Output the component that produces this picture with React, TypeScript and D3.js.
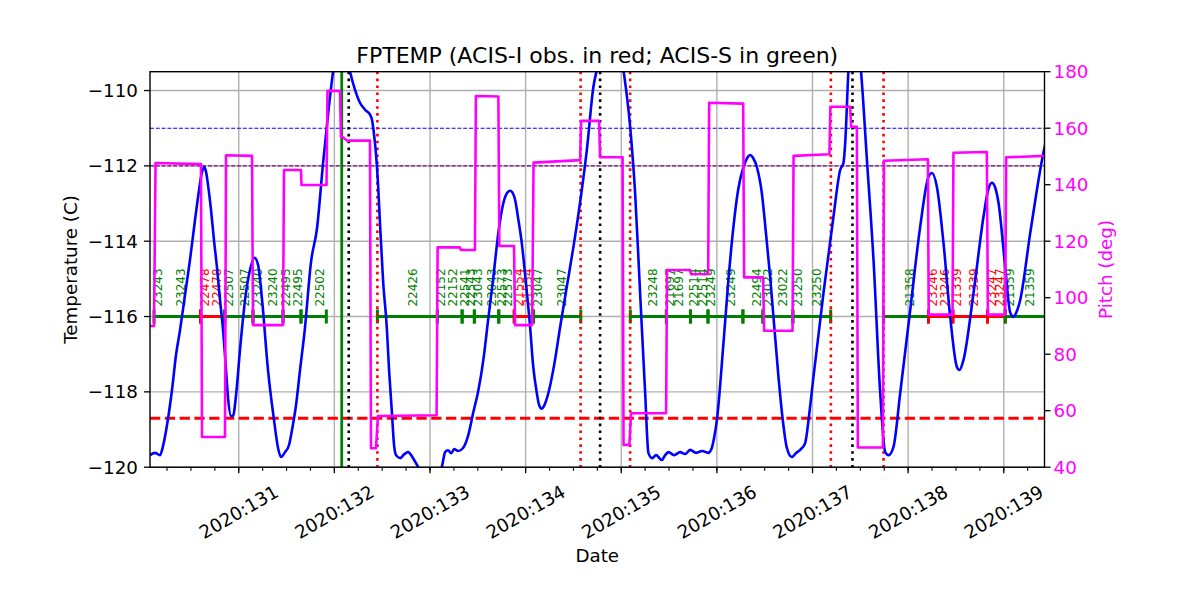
import React from "react";
import * as d3 from "d3";

// --- Layout ---
const WIDTH = 1200;
const HEIGHT = 600;
const LEFT = 150;
const RIGHT = 1044.5;
const TOP = 71.7;
const BOTTOM = 467.2;
const FONT = "DejaVu Sans, sans-serif";

// --- Axes ---
const DAY_DOMAIN = [130.072, 139.426];
const TEMP_DOMAIN = [-120, -109.5];
const PITCH_DOMAIN = [40, 180];
const DATE_TICKS = [131, 132, 133, 134, 135, 136, 137, 138, 139];
const TEMP_TICKS = [-120, -118, -116, -114, -112, -110];
const PITCH_TICKS = [40, 60, 80, 100, 120, 140, 160, 180];

// --- FPTEMP model (day of 2020, deg C) ---
const TEMP_DAYS = [
  130.072, 130.124, 130.177, 130.208, 130.25, 130.302, 130.344, 130.386, 130.438, 130.49,
  130.543, 130.585, 130.616, 130.642, 130.658, 130.679, 130.71, 130.741, 130.773, 130.804,
  130.836, 130.867, 130.888, 130.919, 130.94, 130.972, 131.013, 131.066, 131.118, 131.165,
  131.202, 131.244, 131.306, 131.369, 131.411, 131.442, 131.484, 131.526, 131.557, 131.599,
  131.641, 131.69, 131.756, 131.819, 131.882, 131.934, 131.986, 132.07, 132.164, 132.216,
  132.269, 132.321, 132.373, 132.394, 132.415, 132.436, 132.457, 132.478, 132.509, 132.548,
  132.572, 132.6, 132.624, 132.645, 132.687, 132.729, 132.771, 132.823, 132.875, 132.948,
  133.022, 133.085, 133.126, 133.158, 133.189, 133.221, 133.252, 133.294, 133.346, 133.398,
  133.451, 133.503, 133.558, 133.608, 133.663, 133.712, 133.768, 133.806, 133.838, 133.869,
  133.89, 133.921, 133.96, 134.005, 134.047, 134.078, 134.117, 134.141, 134.169, 134.193,
  134.238, 134.298, 134.361, 134.434, 134.5, 134.563, 134.64, 134.709, 134.744, 134.884,
  135.023, 135.093, 135.145, 135.197, 135.25, 135.284, 135.323, 135.365, 135.424, 135.459,
  135.493, 135.553, 135.616, 135.668, 135.72, 135.783, 135.846, 135.909, 135.947, 135.971,
  136.0, 136.069, 136.118, 136.173, 136.222, 136.278, 136.317, 136.348, 136.379, 136.418,
  136.47, 136.515, 136.557, 136.644, 136.683, 136.732, 136.784, 136.829, 136.871, 136.923,
  136.965, 137.01, 137.115, 137.219, 137.289, 137.324, 137.342, 137.376, 137.436, 137.506,
  137.569, 137.638, 137.708, 137.76, 137.795, 137.847, 137.917, 138.022, 138.126, 138.213,
  138.249, 138.301, 138.37, 138.44, 138.51, 138.537, 138.579, 138.684, 138.788, 138.837,
  138.876, 138.911, 138.945, 139.015, 139.068, 139.102, 139.13, 139.172, 139.277, 139.41,
  139.444,
];
const TEMP_C = [
  -119.68, -119.62, -119.68, -119.44, -118.88, -117.95, -117.02, -116.36, -115.43, -114.5,
  -113.43, -112.64, -112.16, -112.04, -112.16, -112.51, -113.17, -113.97, -114.71, -115.56,
  -116.36, -117.42, -118.16, -118.64, -118.64, -118.08, -116.89, -115.56, -114.76, -114.44,
  -114.63, -115.56, -117.42, -118.75, -119.49, -119.73, -119.6, -119.41, -119.01, -118.35,
  -117.42, -116.36, -114.55, -113.65, -111.92, -110.64, -109.5, -108.12, -109.5, -109.98,
  -110.33, -110.51, -110.64, -110.78, -111.17, -111.71, -112.5, -113.57, -115.03, -116.28,
  -117.42, -118.48, -119.41, -119.68, -119.76, -119.66, -119.6, -119.76, -119.99, -120.23,
  -120.34, -120.21, -119.97, -119.6, -119.55, -119.63, -119.52, -119.57, -119.49, -119.17,
  -118.56, -118.0, -117.15, -116.09, -114.95, -113.83, -112.98, -112.72, -112.66, -112.74,
  -112.9, -113.38, -114.05, -115.16, -116.28, -117.29, -118.03, -118.35, -118.45, -118.37,
  -118.03, -117.29, -116.28, -115.16, -114.15, -113.09, -111.58, -109.9, -109.45, -107.86,
  -109.45, -110.96, -112.72, -115.37, -118.03, -119.62, -119.76, -119.68, -119.81, -119.68,
  -119.6, -119.68, -119.6, -119.65, -119.54, -119.62, -119.57, -119.62, -119.49, -119.22,
  -118.75, -116.7, -115.11, -113.62, -112.64, -112.03, -111.79, -111.71, -111.79, -112.03,
  -112.72, -113.83, -114.95, -117.6, -118.61, -119.49, -119.73, -119.62, -119.54, -119.36,
  -118.61, -117.6, -115.37, -113.35, -112.11, -111.92, -111.39, -109.45, -108.12, -109.45,
  -111.84, -114.5, -118.03, -119.6, -119.68, -119.46, -118.03, -115.82, -113.62, -112.29,
  -112.19, -112.56, -114.05, -116.01, -117.34, -117.42, -117.15, -115.37, -113.35, -112.64,
  -112.45, -112.58, -112.98, -114.68, -115.9, -116.01, -115.9, -115.56, -113.78, -111.71,
  -111.31,
];

// --- Pitch (deg) ---
const PITCH_DAYS = [
  130.072, 130.114, 130.13, 130.605, 130.616, 130.856, 130.867, 131.139, 131.149, 131.463,
  131.473, 131.651, 131.656, 131.918, 131.928, 132.059, 132.069, 132.09, 132.132, 132.372,
  132.383, 132.435, 132.456, 133.069, 133.08, 133.313, 133.324, 133.47, 133.48, 133.715,
  133.725, 133.879, 133.889, 134.068, 134.083, 134.57, 134.58, 134.768, 134.779, 135.014,
  135.024, 135.085, 135.103, 135.469, 135.479, 135.72, 135.73, 135.909, 135.919, 136.275,
  136.285, 136.483, 136.494, 136.791, 136.802, 137.177, 137.187, 137.393, 137.404, 137.464,
  137.474, 137.736, 137.747, 138.207, 138.215, 138.464, 138.474, 138.823, 138.834, 139.015,
  139.025, 139.433,
];
const PITCH_DEG = [
  90.0, 90.0, 147.7, 147.3, 50.7, 50.7, 150.4, 150.2, 90.3, 90.3,
  145.2, 145.2, 139.9, 139.9, 173.2, 173.2, 156.8, 156.8, 155.6, 155.6,
  46.7, 46.7, 58.1, 58.4, 117.8, 117.8, 116.9, 116.9, 171.4, 171.2,
  118.3, 118.3, 90.3, 90.3, 147.8, 148.7, 162.6, 162.6, 149.7, 149.7,
  47.9, 47.9, 59.1, 59.1, 109.8, 109.8, 108.3, 108.4, 169.0, 168.7,
  107.2, 107.2, 88.3, 88.3, 150.2, 150.8, 167.6, 167.6, 160.5, 160.5,
  47.0, 47.0, 148.5, 149.0, 94.0, 94.0, 151.3, 151.6, 94.0, 94.0,
  149.7, 150.2,
];

// --- Observations (drawn at -116 C) ---
const OBS_LEVEL = -116;
const OBS_START = [
  130.114, 130.6, 130.853, 131.149, 131.463, 131.651, 132.45, 133.077, 133.336, 133.464,
  133.719, 133.881, 134.083, 135.095, 135.472, 135.724, 135.907, 136.272, 136.481, 136.795,
  137.743, 138.213, 138.468, 138.83, 139.016,
];
const OBS_STOP = [
  130.6, 130.853, 131.149, 131.463, 131.651, 131.916, 133.077, 133.336, 133.464, 133.719,
  133.881, 134.083, 134.577, 135.472, 135.724, 135.907, 136.272, 136.481, 136.795, 137.19,
  138.213, 138.468, 138.83, 139.016, 139.6,
];
const OBS_INSTR = [
  "S", "I", "S", "S", "S", "S", "S", "S", "S", "S",
  "S", "I", "S", "S", "S", "S", "S", "S", "S", "S",
  "S", "I", "I", "I", "S",
];

const LABEL_DAYS = [
  130.156, 130.396, 130.647, 130.773, 130.898, 131.065, 131.202, 131.359, 131.495, 131.62,
  131.85, 132.818, 133.112, 133.239, 133.367, 133.425, 133.503, 133.644, 133.754, 133.817,
  133.932, 134.026, 134.131, 134.382, 135.337, 135.512, 135.606, 135.763, 135.857, 135.94,
  136.149, 136.424, 136.536, 136.696, 136.853, 137.049, 138.022, 138.265, 138.388, 138.51,
  138.684, 138.876, 138.963, 139.068, 139.277,
];
const LABEL_OBSIDS = [
  "23243", "23243", "22478", "22478", "22507", "22507", "23240", "23240", "22495", "22495",
  "22502", "22426", "22152", "22152", "22541", "22543", "23043", "23043", "22573", "22573",
  "21554", "21554", "23047", "23047", "23248", "21697", "21697", "22514", "22514", "23249",
  "23249", "22494", "23022", "23022", "23250", "23250", "21358", "23246", "23246", "21339",
  "21339", "23247", "23247", "21359", "21359",
];
const LABEL_INSTR = [
  "S", "S", "I", "I", "S", "S", "S", "S", "S", "S",
  "S", "S", "S", "S", "S", "S", "S", "S", "S", "S",
  "I", "I", "S", "S", "S", "S", "S", "S", "S", "S",
  "S", "S", "S", "S", "S", "S", "S", "I", "I", "I",
  "I", "I", "I", "S", "S",
];

// --- Reference lines ---
const RADZONE_DAYS = [132.45, 134.575, 135.093, 137.192, 137.743];
const PERIGEE_DAYS = [132.15, 134.779, 137.418];
const NOW_DAY = 132.077;
const PLANNING_LIMIT = -111;
const YELLOW_LIMIT = -112;
const ACIS_I_LIMIT = -118.7;

const instrColor = (s: string) => (s === "I" ? "red" : "green");

export default function App() {
  const x = d3.scaleLinear().domain(DAY_DOMAIN).range([LEFT, RIGHT]);
  const yT = d3.scaleLinear().domain(TEMP_DOMAIN).range([BOTTOM, TOP]);
  const yP = d3.scaleLinear().domain(PITCH_DOMAIN).range([BOTTOM, TOP]);

  const tempLine = d3
    .line<number>()
    .x((d, i) => x(TEMP_DAYS[i]))
    .y((d) => yT(d))
    .curve(d3.curveMonotoneX);
  const pitchLine = d3
    .line<number>()
    .x((d, i) => x(PITCH_DAYS[i]))
    .y((d) => yP(d));

  const minorTicks = d3.range(130.25, 139.426, 0.25);
  const obsY = yT(OBS_LEVEL);

  return (
    <div style={{ position: "absolute", left: 0, top: 0 }}>
      <svg width={WIDTH} height={HEIGHT} style={{ display: "block", background: "white" }} fontFamily={FONT}>
        <defs>
          <clipPath id="plotArea">
            <rect x={LEFT} y={TOP} width={RIGHT - LEFT} height={BOTTOM - TOP} />
          </clipPath>
        </defs>

        {/* grid */}
        {DATE_TICKS.map((d) => (
          <line key={"gx" + d} x1={x(d)} x2={x(d)} y1={TOP} y2={BOTTOM} stroke="#b0b0b0" strokeWidth={1.4} />
        ))}
        {TEMP_TICKS.map((t) => (
          <line key={"gy" + t} x1={LEFT} x2={RIGHT} y1={yT(t)} y2={yT(t)} stroke="#b0b0b0" strokeWidth={1.4} />
        ))}

        <g clipPath="url(#plotArea)">
          {/* limit lines */}
          <line x1={LEFT} x2={RIGHT} y1={yT(PLANNING_LIMIT)} y2={yT(PLANNING_LIMIT)} stroke="blue" strokeWidth={1.1} strokeDasharray="4,1.8" />
          <line x1={LEFT} x2={RIGHT} y1={yT(YELLOW_LIMIT)} y2={yT(YELLOW_LIMIT)} stroke="purple" strokeWidth={1.1} strokeDasharray="4,1.8" />
          <line x1={LEFT} x2={RIGHT} y1={yT(ACIS_I_LIMIT)} y2={yT(ACIS_I_LIMIT)} stroke="red" strokeWidth={2.8} strokeDasharray="10.3,4.5" />

          {/* observations */}
          {OBS_START.map((s, i) => {
            const c = instrColor(OBS_INSTR[i]);
            const x0 = x(s);
            const x1 = x(OBS_STOP[i]);
            return (
              <g key={"obs" + i}>
                <line x1={x0} x2={x1} y1={obsY} y2={obsY} stroke={c} strokeWidth={3} />
                <line x1={x0} x2={x0} y1={obsY - 7} y2={obsY + 7} stroke={c} strokeWidth={3} />
                <line x1={x1} x2={x1} y1={obsY - 7} y2={obsY + 7} stroke={c} strokeWidth={3} />
              </g>
            );
          })}
          {LABEL_DAYS.map((d, i) => (
            <text
              key={"lab" + i}
              transform={`translate(${x(d)},${obsY - 10}) rotate(-90)`}
              textAnchor="start"
              dominantBaseline="central"
              fontSize={12}
              fill={instrColor(LABEL_INSTR[i])}
            >
              {LABEL_OBSIDS[i]}
            </text>
          ))}

          {/* vertical markers */}
          <line x1={x(NOW_DAY)} x2={x(NOW_DAY)} y1={TOP} y2={BOTTOM} stroke="green" strokeWidth={2.8} />
          {PERIGEE_DAYS.map((d) => (
            <line key={"per" + d} x1={x(d)} x2={x(d)} y1={TOP} y2={BOTTOM} stroke="black" strokeWidth={2.6} strokeDasharray="2.6,4.3" />
          ))}
          {RADZONE_DAYS.map((d) => (
            <line key={"rz" + d} x1={x(d)} x2={x(d)} y1={TOP} y2={BOTTOM} stroke="red" strokeWidth={2.6} strokeDasharray="2.6,4.3" />
          ))}

          {/* temperature */}
          <path d={tempLine(TEMP_C) || ""} fill="none" stroke="blue" strokeWidth={2.6} strokeLinejoin="round" />

          {/* pitch on twin axis */}
          <path d={pitchLine(PITCH_DEG) || ""} fill="none" stroke="magenta" strokeWidth={2.6} strokeLinejoin="round" />
        </g>

        {/* frame */}
        <rect x={LEFT} y={TOP} width={RIGHT - LEFT} height={BOTTOM - TOP} fill="none" stroke="black" strokeWidth={1.4} />

        {/* x axis */}
        {minorTicks.map((d) => (
          <line key={"mt" + d} x1={x(d)} x2={x(d)} y1={BOTTOM} y2={BOTTOM + 3.5} stroke="black" strokeWidth={1.1} />
        ))}
        {DATE_TICKS.map((d) => (
          <g key={"xt" + d}>
            <line x1={x(d)} x2={x(d)} y1={BOTTOM} y2={BOTTOM + 6} stroke="black" strokeWidth={1.3} />
            <text
              x={x(d)}
              y={512}
              textAnchor="middle"
              dominantBaseline="central"
              fontSize={18.3}
              transform={`rotate(-30, ${x(d)}, 512)`}
            >
              {`2020:${d}`}
            </text>
          </g>
        ))}
        <text x={(LEFT + RIGHT) / 2} y={562} textAnchor="middle" fontSize={18.3}>
          Date
        </text>

        {/* left axis */}
        {TEMP_TICKS.map((t) => (
          <g key={"yt" + t}>
            <line x1={LEFT - 6} x2={LEFT} y1={yT(t)} y2={yT(t)} stroke="black" strokeWidth={1.3} />
            <text x={LEFT - 12} y={yT(t)} textAnchor="end" dominantBaseline="central" fontSize={18.3}>
              {d3.format("")(t).replace("-", "\u2212")}
            </text>
          </g>
        ))}
        <text
          transform={`translate(70, ${(TOP + BOTTOM) / 2}) rotate(-90)`}
          textAnchor="middle"
          dominantBaseline="central"
          fontSize={18.3}
        >
          Temperature (C)
        </text>

        {/* right axis */}
        {PITCH_TICKS.map((p) => (
          <g key={"pt" + p}>
            <line x1={RIGHT} x2={RIGHT + 6} y1={yP(p)} y2={yP(p)} stroke="black" strokeWidth={1.3} />
            <text x={RIGHT + 9} y={yP(p)} textAnchor="start" dominantBaseline="central" fontSize={18.3} fill="magenta">
              {p}
            </text>
          </g>
        ))}
        <text
          transform={`translate(1105, ${(TOP + BOTTOM) / 2}) rotate(-90)`}
          textAnchor="middle"
          dominantBaseline="central"
          fontSize={18.3}
          fill="magenta"
        >
          Pitch (deg)
        </text>

        {/* title */}
        <text x={(LEFT + RIGHT) / 2} y={63} textAnchor="middle" fontSize={22}>
          FPTEMP (ACIS-I obs. in red; ACIS-S in green)
        </text>
      </svg>
    </div>
  );
}
